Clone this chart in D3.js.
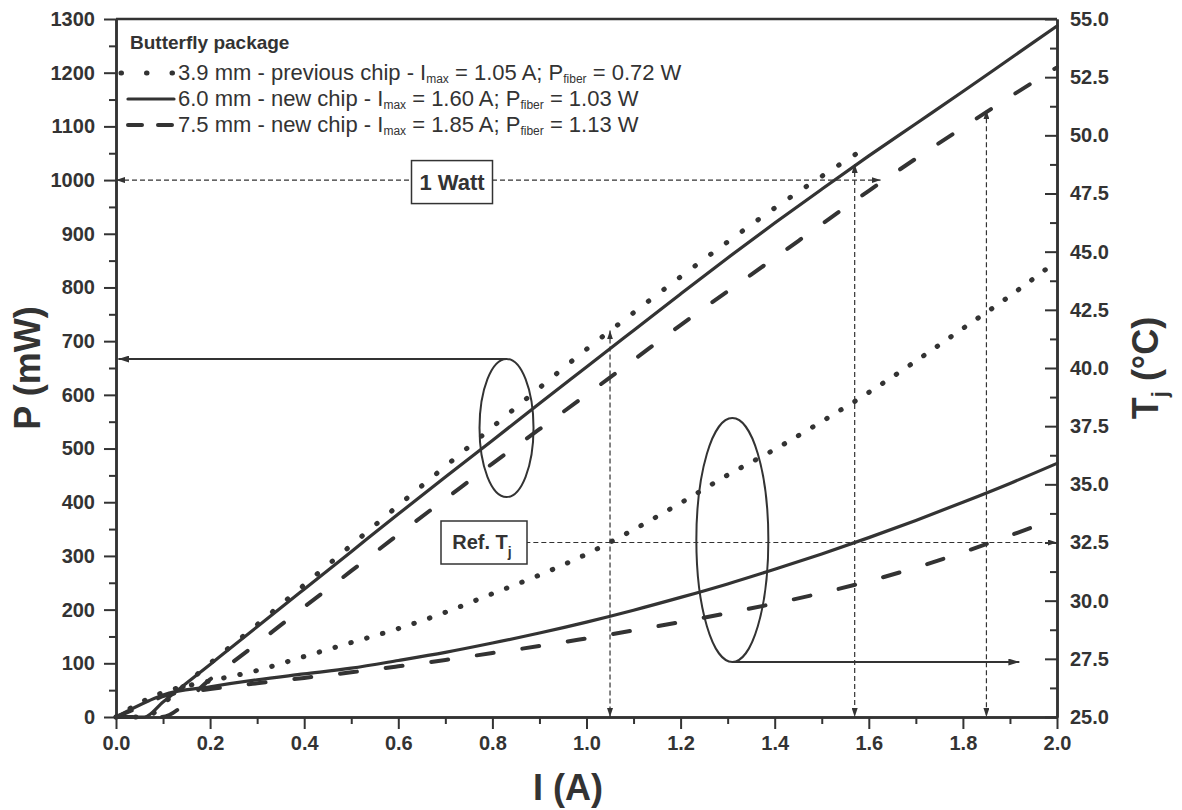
<!DOCTYPE html>
<html>
<head>
<meta charset="utf-8">
<script src="https://cdn.jsdelivr.net/npm/d3@7"></script>
<style>
  body { margin: 0; background: #fff; }
  svg { display: block; font-family: "Liberation Sans", Arial, sans-serif; }
</style>
</head>
<body>
<svg id="chart" width="1182" height="810"></svg>
<script>
// optical power (mW) vs current (A)
const power39 = [[0,0],[0.065,0],[0.1,25],[0.2,100],[0.3,172],[0.4,246],[0.5,320],[0.6,394],[0.7,467],[0.8,540],[0.9,613],[1.0,685],[1.1,753],[1.2,820],[1.3,885],[1.4,948],[1.5,1007],[1.6,1064]];
const power60 = [[0,0],[0.06,0],[0.1,28],[0.2,98],[0.3,168],[0.4,238],[0.5,308],[0.6,378],[0.7,447],[0.8,515],[0.9,584],[1.0,652],[1.1,720],[1.2,788],[1.3,855],[1.4,920],[1.5,983],[1.6,1045],[1.7,1105],[1.8,1165],[1.9,1226],[2.0,1287]];
const power75 = [[0,0],[0.095,0],[0.2,70],[0.3,137],[0.4,205],[0.5,272],[0.6,340],[0.7,406],[0.8,472],[0.9,536],[1.0,600],[1.1,665],[1.2,730],[1.3,793],[1.4,855],[1.5,918],[1.6,980],[1.7,1040],[1.8,1098],[1.9,1155],[2.0,1210]];

// junction temperature (°C) vs current (A)
const temp39 = [[0,25],[0.05,25.6],[0.1,26.05],[0.2,26.55],[0.3,27.0],[0.4,27.6],[0.5,28.2],[0.6,28.8],[0.7,29.5],[0.8,30.3],[0.9,31.1],[1.0,32.0],[1.1,33.05],[1.2,34.2],[1.3,35.4],[1.4,36.5],[1.5,37.7],[1.6,38.95],[1.7,40.3],[1.8,41.7],[1.9,43.1],[2.0,44.6]];
const temp60 = [[0,25],[0.07,25.7],[0.1,25.95],[0.2,26.3],[0.3,26.6],[0.4,26.85],[0.5,27.1],[0.6,27.43],[0.7,27.78],[0.8,28.18],[0.9,28.61],[1.0,29.08],[1.1,29.59],[1.2,30.14],[1.3,30.72],[1.4,31.35],[1.5,32.01],[1.6,32.71],[1.7,33.45],[1.8,34.23],[1.9,35.04],[2.0,35.9]];
const temp75 = [[0,25],[0.08,25.7],[0.1,25.9],[0.2,26.2],[0.3,26.45],[0.4,26.68],[0.5,26.92],[0.6,27.18],[0.7,27.45],[0.8,27.75],[0.9,28.05],[1.0,28.38],[1.1,28.72],[1.2,29.08],[1.3,29.47],[1.4,29.88],[1.5,30.33],[1.6,30.84],[1.7,31.42],[1.8,32.08],[1.9,32.8],[2.0,33.55]];

// legend text
const legendTitle = "Butterfly package";
const legendChips = ["3.9 mm - previous chip", "6.0 mm - new chip", "7.5 mm - new chip"];
const legendImax = ["1.05", "1.60", "1.85"];
const legendPfiber = ["0.72", "1.03", "1.13"];

// reference marks
const maxCurrents = [1.05, 1.57, 1.85];
const fiberPowers = [720, 1030, 1130];
const refTemp = 32.5;
const oneWatt = 1000;

const xTicks = d3.range(0, 2.01, 0.2);
const pTicks = d3.range(0, 1301, 100);
const tTicks = d3.range(25, 55.01, 2.5);

const W = 1182, H = 810;
const margin = { top: 19, right: 125, bottom: 93, left: 116 };
const ink = "#333";

const svg = d3.select("#chart");
const x = d3.scaleLinear().domain([0, 2]).range([margin.left, W - margin.right]);
const yP = d3.scaleLinear().domain([0, 1300]).range([H - margin.bottom, margin.top]);
const yT = d3.scaleLinear().domain([25, 55]).range([H - margin.bottom, margin.top]);

// arrow heads
const defs = svg.append("defs");
function marker(id, w, h) {
  defs.append("marker")
    .attr("id", id)
    .attr("viewBox", `0 0 ${w} ${h}`)
    .attr("refX", w).attr("refY", h / 2)
    .attr("markerWidth", w).attr("markerHeight", h)
    .attr("markerUnits", "userSpaceOnUse")
    .attr("orient", "auto-start-reverse")
    .append("path")
    .attr("d", `M0,0L${w},${h / 2}L0,${h}z`)
    .attr("fill", ink);
}
marker("tip", 9, 6);
marker("bigTip", 11, 7);

// axes
function styleAxis(g) {
  g.selectAll(".domain").attr("stroke", ink).attr("stroke-width", 2.5);
  g.selectAll(".tick line").attr("stroke", ink).attr("stroke-width", 2);
  g.selectAll("text").attr("fill", ink).attr("font-size", 20).attr("font-weight", "bold");
}

svg.append("g").attr("transform", `translate(${margin.left},0)`)
  .call(d3.axisLeft(yP).tickValues(d3.range(50, 1300, 100)).tickSize(7).tickSizeOuter(0).tickFormat(""))
  .call(styleAxis);
svg.append("g").attr("transform", `translate(${margin.left},0)`)
  .call(d3.axisLeft(yP).tickValues(pTicks).tickSize(12).tickSizeOuter(0).tickPadding(9).tickFormat(d3.format("d")))
  .call(styleAxis);

svg.append("g").attr("transform", `translate(${W - margin.right},0)`)
  .call(d3.axisRight(yT).tickValues(d3.range(26.25, 55, 2.5)).tickSize(-7).tickSizeOuter(0).tickFormat(""))
  .call(styleAxis);
svg.append("g").attr("transform", `translate(${W - margin.right},0)`)
  .call(d3.axisRight(yT).tickValues(tTicks).tickSize(-12).tickSizeOuter(0).tickPadding(13).tickFormat(d3.format(".1f")))
  .call(styleAxis);

svg.append("g").attr("transform", `translate(0,${H - margin.bottom})`)
  .call(d3.axisBottom(x).tickValues(d3.range(0.1, 2, 0.2)).tickSize(7).tickSizeOuter(0).tickFormat(""))
  .call(styleAxis);
svg.append("g").attr("transform", `translate(0,${H - margin.bottom})`)
  .call(d3.axisBottom(x).tickValues(xTicks).tickSize(12).tickSizeOuter(0).tickPadding(7).tickFormat(d3.format(".1f")))
  .call(styleAxis);

svg.append("line")
  .attr("x1", x(0)).attr("x2", x(2)).attr("y1", yP(1300)).attr("y2", yP(1300))
  .attr("stroke", ink).attr("stroke-width", 2.5);

// axis titles
svg.append("text")
  .attr("transform", `translate(40,${yP(650)}) rotate(-90)`)
  .attr("text-anchor", "middle").attr("font-size", 36).attr("font-weight", "bold").attr("fill", ink)
  .text("P (mW)");
svg.append("text")
  .attr("x", 568).attr("y", 800)
  .attr("text-anchor", "middle").attr("font-size", 36).attr("font-weight", "bold").attr("fill", ink)
  .text("I (A)");
const tTitle = svg.append("text")
  .attr("transform", `translate(1158,${yT(40)}) rotate(-90)`)
  .attr("text-anchor", "middle").attr("font-size", 36).attr("font-weight", "bold").attr("fill", ink);
tTitle.append("tspan").text("T");
tTitle.append("tspan").attr("font-size", 22).attr("dy", 9).text("j");
tTitle.append("tspan").attr("dy", -9).text(" (°C)");

// curves
const lineP = d3.line().x(d => x(d[0])).y(d => yP(d[1])).curve(d3.curveMonotoneX);
const lineT = d3.line().x(d => x(d[0])).y(d => yT(d[1])).curve(d3.curveMonotoneX);
const dotted = { width: 5, dash: "0.5 19" };
const solid = { width: 3.2, dash: null };
const dashed = { width: 4, dash: "17 29" };

function drawCurve(data, line, st) {
  svg.append("path")
    .datum(data)
    .attr("d", line)
    .attr("fill", "none")
    .attr("stroke", ink)
    .attr("stroke-width", st.width)
    .attr("stroke-linecap", "round")
    .attr("stroke-dasharray", st.dash);
}
drawCurve(power39, lineP, dotted);
drawCurve(power60, lineP, solid);
drawCurve(power75, lineP, dashed);
drawCurve(temp39, lineT, { width: 5, dash: "0.5 16" });
drawCurve(temp60, lineT, solid);
drawCurve(temp75, lineT, dashed);

// dashed guide arrows
function guide(x1, y1, x2, y2, start, end) {
  const l = svg.append("line")
    .attr("x1", x1).attr("y1", y1).attr("x2", x2).attr("y2", y2)
    .attr("stroke", ink).attr("stroke-width", 1.2).attr("stroke-dasharray", "5 3");
  if (start) l.attr("marker-start", "url(#tip)");
  if (end) l.attr("marker-end", "url(#tip)");
}
maxCurrents.forEach((c, i) => guide(x(c), yP(fiberPowers[i]), x(c), yP(0), true, true));
guide(x(0), yP(oneWatt), x(1.625), yP(oneWatt), true, true);
guide(x(0.87), yT(refTemp), x(2), yT(refTemp), false, true);

// labelled boxes
function box(cx, cy, w, h) {
  svg.append("rect")
    .attr("x", cx - w / 2).attr("y", cy - h / 2).attr("width", w).attr("height", h)
    .attr("fill", "#fff").attr("stroke", ink).attr("stroke-width", 1.5);
}
box(452, yP(oneWatt) + 2, 81, 43);
svg.append("text").attr("x", 452).attr("y", yP(oneWatt) + 10)
  .attr("text-anchor", "middle").attr("font-size", 22).attr("font-weight", "bold").attr("fill", ink)
  .text("1 Watt");

box(484, yT(refTemp), 86, 43);
const refLabel = svg.append("text").attr("x", 482).attr("y", yT(refTemp) + 6)
  .attr("text-anchor", "middle").attr("font-size", 20).attr("font-weight", "bold").attr("fill", ink);
refLabel.append("tspan").text("Ref. T");
refLabel.append("tspan").attr("font-size", 14).attr("dy", 8).text("j");

// ellipses with pointer arrows
function ellipse(cx, cy, rx, ry) {
  svg.append("ellipse")
    .attr("cx", cx).attr("cy", cy).attr("rx", rx).attr("ry", ry)
    .attr("fill", "none").attr("stroke", ink).attr("stroke-width", 2);
}
function pointer(x1, y1, x2, y2) {
  svg.append("line")
    .attr("x1", x1).attr("y1", y1).attr("x2", x2).attr("y2", y2)
    .attr("stroke", ink).attr("stroke-width", 2)
    .attr("marker-end", "url(#bigTip)");
}
const e1 = { cx: x(0.83), cy: 428, rx: 27, ry: 69 };
ellipse(e1.cx, e1.cy, e1.rx, e1.ry);
pointer(e1.cx, e1.cy - e1.ry, x(0.005), e1.cy - e1.ry);
const e2 = { cx: x(1.31), cy: 540, rx: 36, ry: 122 };
ellipse(e2.cx, e2.cy, e2.rx, e2.ry);
pointer(e2.cx, e2.cy + e2.ry, x(1.92), e2.cy + e2.ry);

// legend
const lg = svg.append("g").attr("fill", ink);
lg.append("text").attr("x", 130).attr("y", 49)
  .attr("font-size", 19).attr("font-weight", "bold").text(legendTitle);
const styles = [dotted, solid, dashed];
const legendDash = ["0.5 25", null, "14 16"];
legendChips.forEach((chip, i) => {
  const yy = 73 + i * 26;
  svg.append("line")
    .attr("x1", i === 0 ? 121 : 128).attr("x2", 174).attr("y1", yy).attr("y2", yy)
    .attr("stroke", ink).attr("stroke-width", styles[i].width)
    .attr("stroke-linecap", "round")
    .attr("stroke-dasharray", legendDash[i]);
  const t = lg.append("text").attr("x", 178).attr("y", yy + 7).attr("font-size", 22);
  t.append("tspan").text(`${chip} - I`);
  t.append("tspan").attr("font-size", 12).attr("dy", 3).text("max");
  t.append("tspan").attr("dy", -3).text(` = ${legendImax[i]} A; P`);
  t.append("tspan").attr("font-size", 12).attr("dy", 3).text("fiber");
  t.append("tspan").attr("dy", -3).text(` = ${legendPfiber[i]} W`);
});
</script>
</body>
</html>
